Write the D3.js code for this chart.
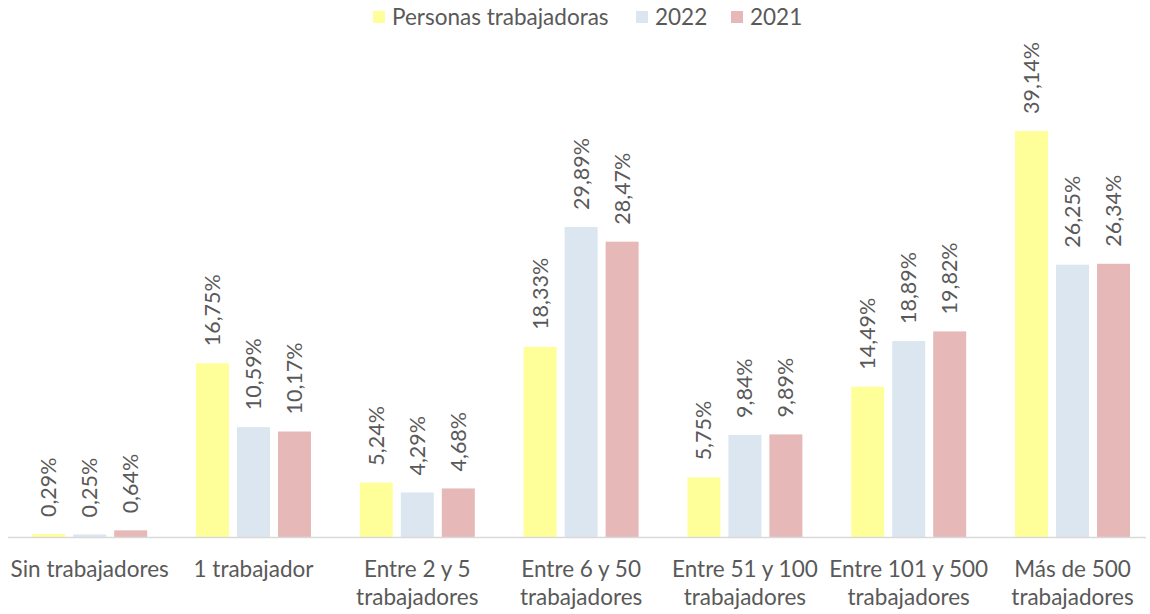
<!DOCTYPE html>
<meta charset="utf-8">
<title>Personas trabajadoras por tamaño</title>
<style>
  body { margin: 0; background: #fff; }
  text { font-family: Lato, "Open Sans", sans-serif; fill: #595959; }
</style>
<div id="viz"></div>
<script src="https://cdnjs.cloudflare.com/ajax/libs/d3/7.8.5/d3.min.js"></script>
<script>

var categories = [
  ["Sin trabajadores"],
  ["1 trabajador"],
  ["Entre 2 y 5", "trabajadores"],
  ["Entre 6 y 50", "trabajadores"],
  ["Entre 51 y 100", "trabajadores"],
  ["Entre 101 y 500", "trabajadores"],
  ["Más de 500", "trabajadores"]
];
var seriesNames = ["Personas trabajadoras", "2022", "2021"];
var seriesColors = ["#ffff99", "#dce6f1", "#e6b8b7"];

var personas = [0.29, 16.75, 5.24, 18.33, 5.75, 14.49, 39.14];
var v2022 = [0.25, 10.59, 4.29, 29.89, 9.84, 18.89, 26.25];
var v2021 = [0.64, 10.17, 4.68, 28.47, 9.89, 19.82, 26.34];
var seriesValues = [personas, v2022, v2021];

var width = 1150;
var height = 614;
var baseY = 537;

var svg = d3.select("#viz")
  .append("svg")
  .attr("width", width)
  .attr("height", height);

var catIdx = d3.range(categories.length);

var x0 = d3.scaleBand()
  .domain(catIdx)
  .range([7.8, 1154.4]);

var x1 = d3.scaleBand()
  .domain(d3.range(seriesNames.length))
  .range([0, x0.bandwidth()])
  .paddingInner(8 / 41)
  .paddingOuter(0.595);

var y = d3.scaleLinear()
  .domain([0, 39.14])
  .range([baseY, 131]);

var fmt = function(v) { return v.toFixed(2).replace(".", ",") + "%"; };

var groups = svg.selectAll("g.grp")
  .data(catIdx)
  .enter().append("g")
  .attr("class", "grp")
  .attr("transform", function(i) { return "translate(" + x0(i) + ",0)"; });

groups.selectAll("rect")
  .data(function(i) { return seriesValues.map(function(s, k) { return {k: k, v: s[i]}; }); })
  .enter().append("rect")
  .attr("x", function(d) { return x1(d.k); })
  .attr("y", function(d) { return y(d.v); })
  .attr("width", x1.bandwidth())
  .attr("height", function(d) { return baseY - y(d.v); })
  .attr("fill", function(d) { return seriesColors[d.k]; });

groups.selectAll("text.lbl")
  .data(function(i) { return seriesValues.map(function(s, k) { return {k: k, v: s[i]}; }); })
  .enter().append("text")
  .attr("class", "lbl")
  .attr("transform", function(d) {
    return "translate(" + (x1(d.k) + x1.bandwidth() / 2 + 7.5) + "," + (y(d.v) - 17) + ") rotate(-90)";
  })
  .style("font-size", "21.5px")
  .text(function(d) { return fmt(d.v); });

// axis line
svg.append("line")
  .attr("x1", 8).attr("x2", 1146)
  .attr("y1", baseY + 0.5).attr("y2", baseY + 0.5)
  .attr("stroke", "#d9d9d9")
  .attr("stroke-width", 1.5);

// category labels
groups.append("text")
  .attr("x", x0.bandwidth() / 2)
  .attr("text-anchor", "middle")
  .style("font-size", "22.5px")
  .selectAll("tspan")
  .data(function(i) { return categories[i]; })
  .enter().append("tspan")
  .attr("x", x0.bandwidth() / 2)
  .attr("y", function(d, j) { return 577 + j * 28; })
  .text(function(d) { return d; });

// legend
var legendX = [373, 636, 731];
var legend = svg.selectAll("g.leg")
  .data(seriesNames)
  .enter().append("g")
  .attr("class", "leg")
  .attr("transform", function(d, k) { return "translate(" + legendX[k] + ",11)"; });
legend.append("rect")
  .attr("width", 12).attr("height", 12)
  .attr("fill", function(d, k) { return seriesColors[k]; });
legend.append("text")
  .attr("x", 19).attr("y", 14)
  .style("font-size", "22.5px")
  .text(function(d) { return d; });

</script>
